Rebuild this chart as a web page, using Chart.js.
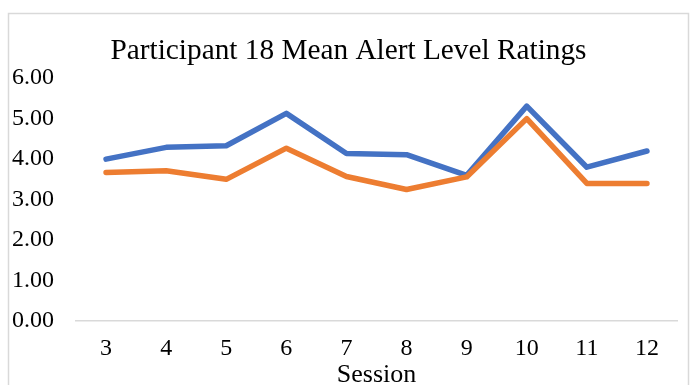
<!DOCTYPE html>
<html>
<head>
<meta charset="utf-8">
<script src="https://cdn.jsdelivr.net/npm/chart.js@4/dist/chart.umd.min.js"></script>
<style>
  html, body { margin: 0; padding: 0; background: #ffffff; }
  #wrap { width: 698px; height: 385px; position: relative; }
</style>
</head>
<body>
<div id="wrap"><canvas id="c" width="698" height="385"></canvas></div>
<script>
// Sessions and mean alert level ratings for participant 18
const sessions = ['3', '4', '5', '6', '7', '8', '9', '10', '11', '12'];
const seriesBlue = [4.00, 4.29, 4.33, 5.13, 4.14, 4.11, 3.60, 5.31, 3.80, 4.20];
const seriesOrange = [3.67, 3.71, 3.50, 4.27, 3.57, 3.25, 3.56, 5.00, 3.40, 3.40];
const yTicks = [0, 1, 2, 3, 4, 5, 6];

const serif = '"Liberation Serif", "Times New Roman", serif';

// Light grey frame around the whole chart
const framePlugin = {
  id: 'frame',
  beforeDraw(chart) {
    const ctx = chart.ctx;
    ctx.save();
    ctx.fillStyle = '#ffffff';
    ctx.fillRect(0, 0, chart.width, chart.height);
    ctx.strokeStyle = '#d9d9d9';
    ctx.lineWidth = 1.5;
    ctx.strokeRect(8.5, 13.5, 680, 420);
    ctx.restore();
  }
};

// Centre the title within the framed box rather than the full canvas
const titleShiftPlugin = {
  id: 'titleShift',
  afterLayout(chart) {
    if (chart.titleBlock) chart.titleBlock.left = 20;
  }
};

new Chart(document.getElementById('c'), {
  type: 'line',
  data: {
    labels: sessions,
    datasets: [
      {
        label: 'Series 1',
        data: seriesBlue,
        borderColor: '#4472C4',
        backgroundColor: '#4472C4',
        borderWidth: 5.5,
        pointRadius: 0,
        tension: 0,
        borderCapStyle: 'round',
        borderJoinStyle: 'round',
        order: 1
      },
      {
        label: 'Series 2',
        data: seriesOrange,
        borderColor: '#ED7D31',
        backgroundColor: '#ED7D31',
        borderWidth: 5.5,
        pointRadius: 0,
        tension: 0,
        borderCapStyle: 'round',
        borderJoinStyle: 'round',
        order: 0
      }
    ]
  },
  options: {
    responsive: false,
    animation: false,
    devicePixelRatio: 1,
    layout: { padding: { left: 0, right: 21, top: 0, bottom: 0 } },
    plugins: {
      legend: { display: false },
      tooltip: { enabled: false },
      title: {
        display: true,
        text: 'Participant 18 Mean Alert Level Ratings',
        color: '#000000',
        font: { family: serif, size: 29.3, weight: 'normal' },
        padding: { top: 34, bottom: 9 }
      }
    },
    scales: {
      x: {
        type: 'category',
        offset: true,
        grid: { display: false, drawTicks: false },
        border: { display: true, color: '#d9d9d9', width: 1.5 },
        ticks: {
          color: '#000000',
          font: { family: serif, size: 24 },
          padding: 13,
          maxRotation: 0,
          autoSkip: false
        },
        title: {
          display: true,
          text: 'Session',
          color: '#000000',
          font: { family: serif, size: 26 },
          padding: { top: 0, bottom: -6 }
        },
        afterFit(scale) { scale.height = 64; }
      },
      y: {
        min: 0,
        max: 6,
        afterBuildTicks(scale) { scale.ticks = yTicks.map(v => ({ value: v })); },
        grid: { display: false, drawTicks: false },
        border: { display: false },
        ticks: {
          color: '#000000',
          font: { family: serif, size: 24 },
          padding: 22,
          callback: v => Number(v).toFixed(2)
        },
        afterFit(scale) { scale.width = 76; }
      }
    }
  },
  plugins: [framePlugin, titleShiftPlugin]
});
</script>
</body>
</html>
